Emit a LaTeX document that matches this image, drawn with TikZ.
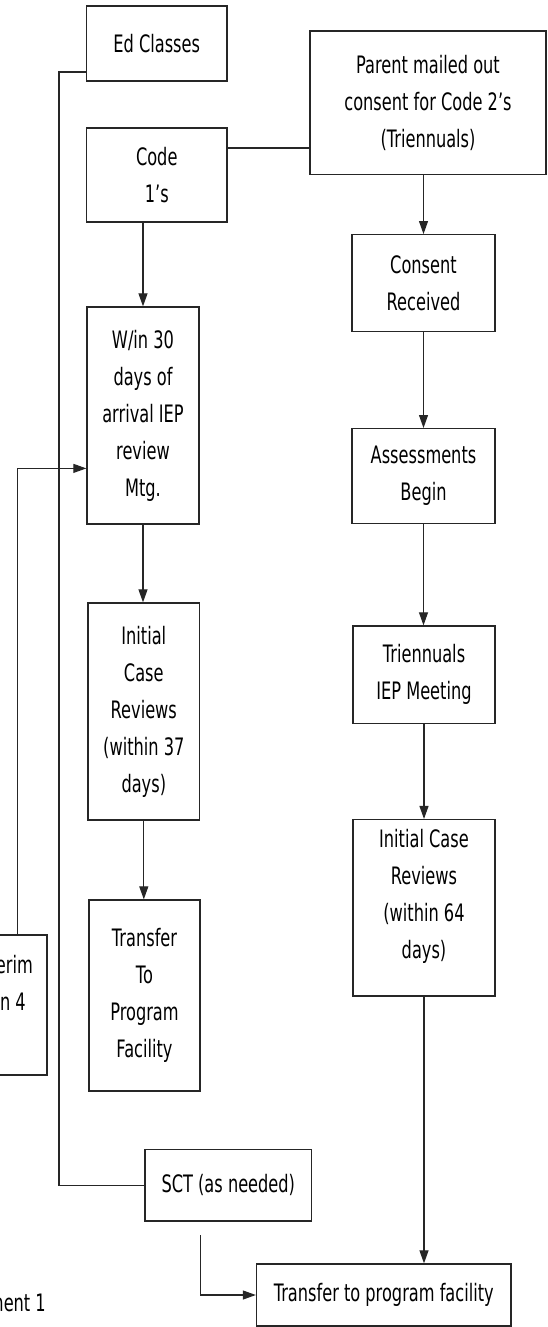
\documentclass[tikz,border=0pt]{standalone}
\usepackage{fontspec}
\setmainfont[FakeStretch=0.675]{DejaVu Sans}
\usetikzlibrary{arrows.meta}
\begin{document}
\begin{tikzpicture}[x=1pt,y=-1pt,
  txt/.style={font=\fontsize{24}{37}\selectfont, inner sep=0pt},
  box/.style={draw=black!85, line width=1.3pt, align=center, inner sep=0pt, font=\fontsize{24}{37}\selectfont},
  conn/.style={draw=black!85, line width=1.1pt},
  arr/.style={conn, -{Triangle[length=13pt,width=9pt]}}]
\useasboundingbox (0,0) rectangle (547,1327);

\node[box, minimum width=140.5pt, minimum height=75pt] (ed) at (156.75,43.5) {Ed Classes};
\node[box, minimum width=236pt, minimum height=143.5pt] (parent) at (428,102.75) {Parent mailed out\\consent for Code 2’s\\(Triennuals)};
\node[box, minimum width=140.5pt, minimum height=94pt] (code1) at (156.75,175) {Code\\1’s};
\node[box, minimum width=112pt, minimum height=217pt] (win) at (143,415.5) {W/in 30\\days of\\arrival IEP\\review\\Mtg.};
\node[box, minimum width=143pt, minimum height=97pt] (consent) at (423.5,283.2) {Consent\\Received};
\node[box, minimum width=143pt, minimum height=95pt] (assess) at (423.5,476.15) {Assessments\\Begin};
\node[box, minimum width=111.6pt, minimum height=217pt] (initL) at (143.8,711.5) {Initial\\Case\\Reviews\\(within 37\\days)};
\node[box, minimum width=142pt, minimum height=97.6pt] (trienn) at (424,674.8) {Triennuals\\IEP Meeting};
\node[box, minimum width=142pt, minimum height=176.4pt] (initR) at (424,907.8) {Initial Case\\Reviews\\(within 64\\days)\rule[-28pt]{0pt}{0pt}};
\node[box, minimum width=111pt, minimum height=191pt] (transTo) at (144.5,995.5) {Transfer\\To\\Program\\Facility};
\node[box, minimum width=117pt, minimum height=140pt] (interim) at (-11.5,1005) {};
\node[txt, anchor=base east] (interimA) at (33,973) {erim};
\node[txt, anchor=base east] (interimB) at (26,1010) {n 4};
\node[box, minimum width=166.6pt, minimum height=71.2pt] (sct) at (228.3,1185.4) {SCT (as needed)};
\node[box, minimum width=254.5pt, minimum height=62pt] (transP) at (383.75,1295) {Transfer to program facility};
\node[txt, anchor=base east] (attach) at (46,1311) {ment 1};

\coordinate (edbend) at (59,72);
\coordinate (pcy) at (0,148);
\coordinate (intx) at (17.4,0);
\coordinate (inty) at (0,468.4);
\coordinate (sctout) at (200.6,1235);

\draw[conn] (ed.west |- edbend) -- (edbend) |- (sct.west);
\draw[conn] (parent.west |- pcy) -- (code1.east |- pcy);
\draw[arr] (consent.north |- parent.south) -- (consent.north);
\draw[arr] (win.north |- code1.south) -- (win.north);
\draw[arr] (consent.south) -- (assess.north);
\draw[arr] (win.south) -- (win.south |- initL.north);
\draw[arr] (assess.south) -- (assess.south |- trienn.north);
\draw[arr] (initL.south) -- (initL.south |- transTo.north);
\draw[arr] (trienn.south) -- (initR.north);
\draw[arr] (initR.south) -- (initR.south |- transP.north);
\draw[arr] (interim.north -| intx) |- (win.west |- inty);
\draw[arr] (sctout) |- (transP.west);
\end{tikzpicture}
\end{document}
